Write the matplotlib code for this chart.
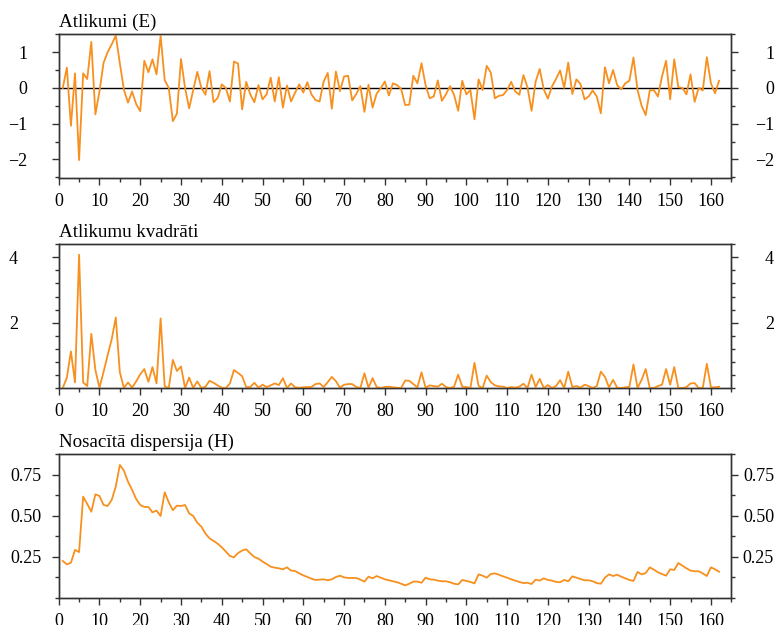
import matplotlib
matplotlib.use("Agg")
import matplotlib.pyplot as plt
from matplotlib.ticker import MultipleLocator, FixedLocator, FormatStrFormatter

plt.rcParams['font.family'] = ['Liberation Serif', 'DejaVu Serif']

titles = ["Atlikumi (E)", "Atlikumu kvadrāti", "Nosacītā dispersija (H)"]

residuals = [
    0.0, 0.57, -1.06, 0.41, -2.02, 0.41, 0.25, 1.29, -0.74, -0.1,
    0.7, 1.0, 1.22, 1.47, 0.69, -0.05, -0.41, -0.1, -0.45, -0.65,
    0.76, 0.44, 0.8, 0.38, 1.46, 0.22, 0.0, -0.93, -0.72, 0.81,
    0.0, -0.57, -0.06, 0.45, 0.0, -0.19, 0.47, -0.4, -0.28, 0.1,
    0.0, -0.38, 0.74, 0.68, -0.6, 0.17, -0.18, -0.4, 0.08, -0.32,
    -0.18, 0.29, -0.38, 0.3, -0.55, 0.07, -0.38, -0.13, 0.1, -0.13,
    0.16, -0.18, -0.34, -0.38, 0.18, 0.42, -0.58, 0.46, -0.09, 0.32,
    0.34, -0.35, -0.17, 0.05, -0.67, 0.09, -0.55, -0.16, -0.01, 0.18,
    -0.21, 0.13, 0.08, -0.03, -0.48, -0.47, 0.34, 0.13, 0.69, 0.08,
    -0.29, -0.24, 0.21, -0.36, -0.18, 0.05, -0.2, -0.64, 0.2, -0.18,
    -0.06, -0.88, 0.24, -0.06, 0.62, 0.43, -0.29, -0.22, -0.2, -0.06,
    0.17, -0.1, -0.19, 0.36, 0.02, -0.64, 0.18, 0.53, -0.04, -0.3,
    0.04, 0.25, 0.49, 0.0, 0.71, -0.17, 0.24, 0.11, -0.32, -0.24,
    -0.07, -0.24, -0.71, 0.58, 0.13, 0.5, 0.08, -0.04, 0.13, 0.2,
    0.85, -0.06, -0.5, -0.76, -0.07, -0.06, -0.24, 0.32, 0.76, -0.32,
    0.8, 0.02, 0.0, -0.18, 0.38, -0.39, 0.0, -0.07, 0.86, 0.13,
    -0.15, 0.2,
]

squared = [
    0.0, 0.32, 1.12, 0.17, 4.08, 0.17, 0.06, 1.66, 0.55, 0.01,
    0.49, 1.0, 1.49, 2.16, 0.48, 0.0, 0.17, 0.01, 0.2, 0.42,
    0.58, 0.19, 0.64, 0.14, 2.13, 0.05, 0.0, 0.86, 0.52, 0.66,
    0.0, 0.32, 0.0, 0.2, 0.0, 0.04, 0.22, 0.16, 0.08, 0.01,
    0.0, 0.14, 0.55, 0.46, 0.36, 0.03, 0.03, 0.16, 0.01, 0.1,
    0.03, 0.08, 0.14, 0.09, 0.3, 0.0, 0.14, 0.02, 0.01, 0.02,
    0.03, 0.03, 0.12, 0.14, 0.03, 0.18, 0.34, 0.21, 0.01, 0.1,
    0.12, 0.12, 0.03, 0.0, 0.45, 0.01, 0.3, 0.03, 0.0, 0.03,
    0.04, 0.02, 0.01, 0.0, 0.23, 0.22, 0.12, 0.02, 0.48, 0.01,
    0.08, 0.06, 0.04, 0.13, 0.03, 0.0, 0.04, 0.41, 0.04, 0.03,
    0.0, 0.77, 0.06, 0.0, 0.38, 0.18, 0.08, 0.05, 0.04, 0.0,
    0.03, 0.01, 0.04, 0.13, 0.0, 0.41, 0.03, 0.28, 0.0, 0.09,
    0.0, 0.06, 0.24, 0.0, 0.5, 0.03, 0.06, 0.01, 0.1, 0.06,
    0.0, 0.06, 0.5, 0.34, 0.02, 0.25, 0.01, 0.0, 0.02, 0.04,
    0.72, 0.0, 0.25, 0.58, 0.0, 0.0, 0.06, 0.1, 0.58, 0.1,
    0.64, 0.0, 0.0, 0.03, 0.14, 0.15, 0.0, 0.0, 0.74, 0.02,
    0.02, 0.04,
]

variance = [
    0.226, 0.205, 0.215, 0.293, 0.28, 0.618, 0.573, 0.526, 0.632, 0.622,
    0.567, 0.561, 0.598, 0.679, 0.811, 0.776, 0.709, 0.659, 0.604, 0.567,
    0.555, 0.555, 0.522, 0.533, 0.5, 0.644, 0.583, 0.535, 0.563, 0.561,
    0.567, 0.516, 0.5, 0.459, 0.435, 0.392, 0.364, 0.348, 0.331, 0.309,
    0.283, 0.256, 0.248, 0.274, 0.289, 0.297, 0.272, 0.25, 0.24, 0.222,
    0.207, 0.191, 0.185, 0.181, 0.175, 0.187, 0.167, 0.165, 0.15, 0.138,
    0.128, 0.118, 0.11, 0.112, 0.114, 0.108, 0.114, 0.128, 0.136, 0.126,
    0.122, 0.122, 0.122, 0.112, 0.1, 0.13, 0.12, 0.134, 0.124, 0.114,
    0.108, 0.102, 0.096, 0.087, 0.077, 0.087, 0.1, 0.1, 0.093, 0.124,
    0.114, 0.112, 0.106, 0.102, 0.102, 0.096, 0.087, 0.083, 0.11, 0.104,
    0.098, 0.089, 0.144, 0.136, 0.124, 0.146, 0.15, 0.142, 0.132, 0.124,
    0.114, 0.106, 0.098, 0.091, 0.093, 0.085, 0.112, 0.106, 0.12, 0.11,
    0.106, 0.098, 0.096, 0.11, 0.102, 0.132, 0.124, 0.116, 0.108, 0.108,
    0.102, 0.091, 0.087, 0.124, 0.144, 0.134, 0.142, 0.13, 0.12, 0.11,
    0.104, 0.159, 0.144, 0.152, 0.187, 0.173, 0.157, 0.146, 0.136, 0.175,
    0.171, 0.213, 0.197, 0.181, 0.167, 0.163, 0.163, 0.15, 0.134, 0.187,
    0.175, 0.16,
]

panel1_ticks = [-2, -1, 0, 1]
panel2_ticks = [2, 4]
panel3_ticks = [0.25, 0.5, 0.75]

t = list(range(1, len(residuals) + 1))

ORANGE = '#F7901E'
SPINE = '#333333'
W, H = 776, 625
fig = plt.figure(figsize=(W / 100, H / 100), dpi=100)

left = 58.7 / W
width = (731.3 - 58.7) / W
rows = [(34, 178.3), (244.3, 388), (454.3, 598)]

series = [residuals, squared, variance]
ylims = [(-2.53, 1.51), (0, 4.4), (0, 0.876)]
majors = [panel1_ticks, panel2_ticks, panel3_ticks]
minors = [0.5, 0.4, 0.125]
fmts = [None, None, '%.2f']
lpads = [17.8, 24.3, 7.3]
rpad = 25.8
FS = 13

for k in range(3):
    top, bot = rows[k]
    ax = fig.add_axes([left, 1 - bot / H, width, (bot - top) / H])
    ax.plot(t, series[k], color=ORANGE, lw=1.3, zorder=3)
    if k == 0:
        ax.axhline(0, color='black', lw=1.0, zorder=2)
    ax.set_xlim(0, 165)
    ax.set_ylim(*ylims[k])
    ax.xaxis.set_major_locator(MultipleLocator(10))
    ax.xaxis.set_minor_locator(MultipleLocator(5))
    ax.tick_params(axis='x', which='both', direction='out', top=False,
                   colors=SPINE, labelcolor='black', labelsize=FS, pad=5.5)
    ax.tick_params(axis='both', which='major', length=5, width=1)
    ax.tick_params(axis='both', which='minor', length=3, width=1)
    ax.tick_params(axis='y', which='both', direction='out', right=False,
                   colors=SPINE, labelcolor='black', labelsize=FS, pad=lpads[k])

    ax2 = ax.twinx()
    ax2.set_ylim(*ylims[k])
    for a in (ax, ax2):
        a.yaxis.set_major_locator(FixedLocator(majors[k]))
        a.yaxis.set_minor_locator(MultipleLocator(minors[k]))
        if fmts[k]:
            a.yaxis.set_major_formatter(FormatStrFormatter(fmts[k]))
        for s in a.spines.values():
            s.set_color(SPINE)
            s.set_linewidth(1.0)
    ax2.tick_params(axis='y', which='major', length=5, width=1)
    ax2.tick_params(axis='y', which='minor', length=3, width=1)
    ax2.tick_params(axis='y', which='both', direction='out', colors=SPINE,
                    labelcolor='black', labelsize=FS, pad=rpad)
    plt.setp(ax2.get_yticklabels(), ha='right')

    ax.set_title(titles[k], loc='left', fontsize=13.7, pad=5)

fig.savefig('out.png', dpi=100)
